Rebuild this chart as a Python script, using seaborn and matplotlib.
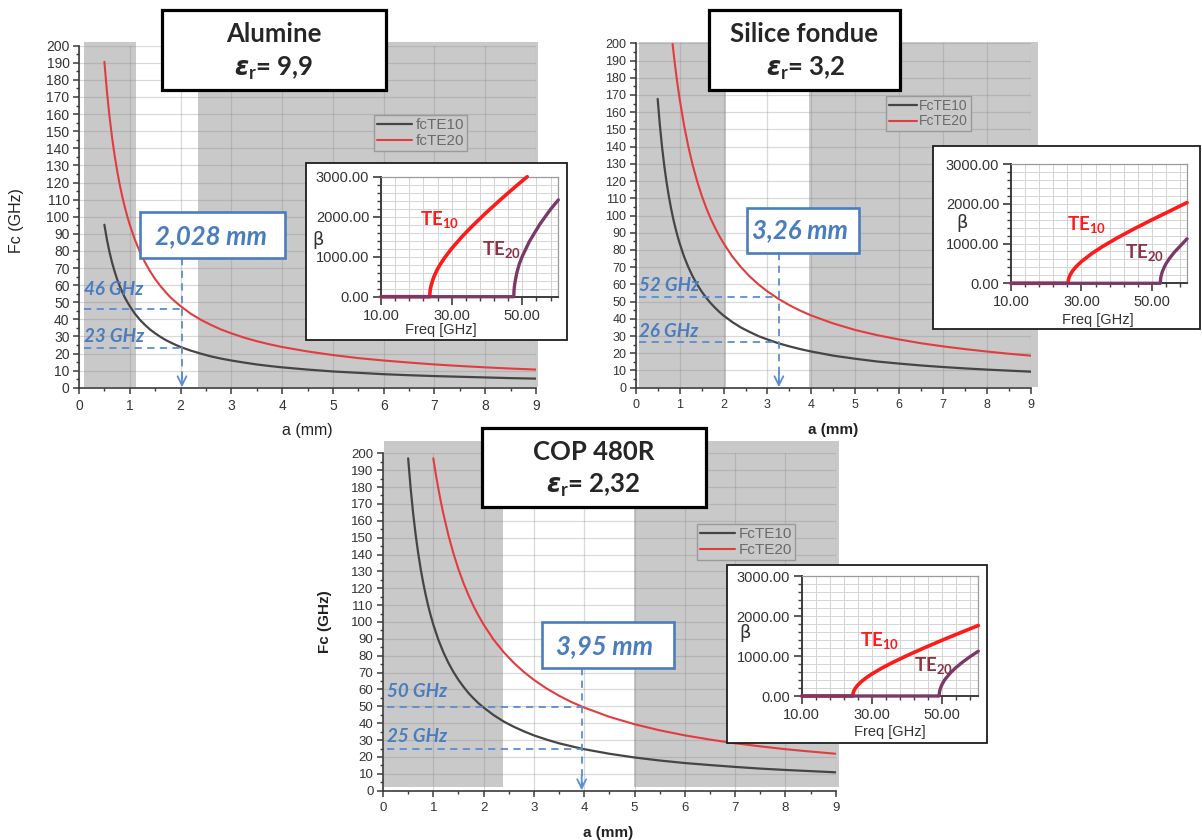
import numpy as np
import matplotlib
matplotlib.use("Agg")
import matplotlib.pyplot as plt
import seaborn as sns
from matplotlib.patches import Rectangle
from matplotlib.ticker import MultipleLocator, FixedLocator, FormatStrFormatter

# ---------------- data ----------------
# Main panels: cut-off frequency Fc (GHz) versus width a (mm)
a_grid = [0.5, 0.55, 0.6, 0.65, 0.7, 0.75, 0.8, 0.85, 0.9, 0.95, 1.0, 1.1, 1.2, 1.3, 1.4,
          1.5, 1.6, 1.7, 1.8, 1.9, 2.0, 2.2, 2.4, 2.6, 2.8, 3.0, 3.25, 3.5, 3.75, 4.0,
          4.5, 5.0, 5.5, 6.0, 6.5, 7.0, 7.5, 8.0, 8.5, 9.0]

alu_a10 = a_grid
alu_fc10 = [95.3, 86.6, 79.4, 73.3, 68.1, 63.5, 59.6, 56.1, 52.9, 50.2, 47.7, 43.3, 39.7,
            36.7, 34.0, 31.8, 29.8, 28.0, 26.5, 25.1, 23.8, 21.7, 19.9, 18.3, 17.0, 15.9,
            14.7, 13.6, 12.7, 11.9, 10.6, 9.5, 8.7, 7.9, 7.3, 6.8, 6.4, 6.0, 5.6, 5.3]
alu_a20 = a_grid
alu_fc20 = [190.6, 173.3, 158.8, 146.6, 136.1, 127.1, 119.1, 112.1, 105.9, 100.3, 95.3,
            86.6, 79.4, 73.3, 68.1, 63.5, 59.6, 56.1, 52.9, 50.2, 47.7, 43.3, 39.7, 36.7,
            34.0, 31.8, 29.3, 27.2, 25.4, 23.8, 21.2, 19.1, 17.3, 15.9, 14.7, 13.6, 12.7,
            11.9, 11.2, 10.6]

sil_a10 = a_grid
sil_fc10 = [167.7, 152.5, 139.8, 129.0, 119.8, 111.8, 104.8, 98.6, 93.2, 88.3, 83.9, 76.2,
            69.9, 64.5, 59.9, 55.9, 52.4, 49.3, 46.6, 44.1, 41.9, 38.1, 34.9, 32.3, 29.9,
            28.0, 25.8, 24.0, 22.4, 21.0, 18.6, 16.8, 15.2, 14.0, 12.9, 12.0, 11.2, 10.5,
            9.9, 9.3]
sil_a20 = [0.84, 0.87, 0.9, 0.95, 1.0, 1.1, 1.2, 1.3, 1.4, 1.5, 1.6, 1.7, 1.8, 1.9, 2.0,
           2.2, 2.4, 2.6, 2.8, 3.0, 3.25, 3.5, 3.75, 4.0, 4.5, 5.0, 5.5, 6.0, 6.5, 7.0,
           7.5, 8.0, 8.5, 9.0]
sil_fc20 = [199.6, 192.8, 186.3, 176.5, 167.7, 152.5, 139.8, 129.0, 119.8, 111.8, 104.8,
            98.6, 93.2, 88.3, 83.9, 76.2, 69.9, 64.5, 59.9, 55.9, 51.6, 47.9, 44.7, 41.9,
            37.3, 33.5, 30.5, 28.0, 25.8, 24.0, 22.4, 21.0, 19.7, 18.6]

cop_a10 = a_grid
cop_fc10 = [197.0, 179.1, 164.2, 151.5, 140.7, 131.3, 123.1, 115.9, 109.4, 103.7, 98.5,
            89.5, 82.1, 75.8, 70.4, 65.7, 61.6, 57.9, 54.7, 51.8, 49.3, 44.8, 41.0, 37.9,
            35.2, 32.8, 30.3, 28.1, 26.3, 24.6, 21.9, 19.7, 17.9, 16.4, 15.2, 14.1, 13.1,
            12.3, 11.6, 10.9]
cop_a20 = [1.0, 1.05, 1.1, 1.15, 1.2, 1.3, 1.4, 1.5, 1.6, 1.7, 1.8, 1.9, 2.0, 2.2, 2.4,
           2.6, 2.8, 3.0, 3.25, 3.5, 3.75, 4.0, 4.5, 5.0, 5.5, 6.0, 6.5, 7.0, 7.5, 8.0,
           8.5, 9.0]
cop_fc20 = [197.0, 187.6, 179.1, 171.3, 164.2, 151.5, 140.7, 131.3, 123.1, 115.9, 109.4,
            103.7, 98.5, 89.5, 82.1, 75.8, 70.4, 65.7, 60.6, 56.3, 52.5, 49.3, 43.8, 39.4,
            35.8, 32.8, 30.3, 28.1, 26.3, 24.6, 23.2, 21.9]

# Grey (excluded) ranges of a, in mm
alu_grey = [(0.10, 1.13), (2.35, 9.03)]
sil_grey = [(0.075, 2.06), (3.95, 9.15)]
cop_grey = [(0.02, 2.39), (4.99, 9.07)]

# Chosen width and the cut-off frequencies read there
alu_a_opt, alu_marks, alu_mark_labels, alu_box = 2.028, [46, 23], ["46 GHz", "23 GHz"], "2,028 mm"
sil_a_opt, sil_marks, sil_mark_labels, sil_box = 3.26, [52.5, 26.4], ["52 GHz", "26 GHz"], "3,26 mm"
cop_a_opt, cop_marks, cop_mark_labels, cop_box = 3.95, [49.6, 24.6], ["50 GHz", "25 GHz"], "3,95 mm"

# Insets: beta versus Freq [GHz]
alu_f10 = [10, 23.8, 23.85, 23.95, 24.2, 24.6, 25, 26, 27, 28, 30, 33, 36, 40, 44, 48, 51.4]
alu_b10 = [0, 0, 100, 175, 280, 400, 504, 690, 840, 972, 1204, 1507, 1780, 2119, 2439,
           2747, 3000]
alu_f20 = [10, 47.6, 47.65, 47.8, 48.1, 48.5, 49.2, 50, 52, 55, 58, 60.2]
alu_b20 = [0, 0, 140, 280, 440, 613, 830, 1008, 1379, 1816, 2184, 2420]

sil_f10 = [10, 26.2, 26.3, 26.5, 26.8, 27.5, 28.5, 30, 33, 36, 40, 45, 50, 55, 60]
sil_b10 = [0, 0, 86, 150, 211, 313, 420, 547, 752, 925, 1133, 1371, 1596, 1812, 2030]
sil_f20 = [10, 52.4, 52.5, 52.7, 53, 53.5, 54, 55, 56.5, 58, 60]
sil_b20 = [0, 0, 122, 210, 298, 400, 489, 626, 792, 932, 1120]

cop_f10 = [10, 24.6, 24.7, 24.9, 25.2, 25.6, 26, 27, 28.5, 30, 33, 36, 40, 45, 50, 55, 60.5]
cop_b10 = [0, 0, 71, 123, 174, 225, 269, 355, 459, 548, 702, 838, 1006, 1202, 1389, 1569,
           1763]
cop_f20 = [10, 49.3, 49.4, 49.6, 50, 50.5, 51, 52.5, 54, 56, 58, 60.5]
cop_b20 = [0, 0, 100, 174, 266, 350, 417, 576, 703, 847, 975, 1119]

inset_xticks = [10, 30, 50]
inset_xlabels = ["10.00", "30.00", "50.00"]

# ---------------- style ----------------
sns.set_style("white")
plt.rcParams['font.family'] = ['Liberation Sans', 'DejaVu Sans']
plt.rcParams['mathtext.fontset'] = 'custom'
plt.rcParams['mathtext.rm'] = 'Lato:bold'
plt.rcParams['mathtext.bf'] = 'Lato:bold'
plt.rcParams['mathtext.sf'] = 'Lato:bold'
plt.rcParams['mathtext.it'] = 'DejaVu Sans:italic:bold'

W, H = 1202, 840
fig = plt.figure(figsize=(W / 100, H / 100), dpi=100)
fig.patch.set_facecolor('white')

GREY = '#c9c9c9'
BLUE = '#4a7dbf'
DBLUE = '#5b8dd0'
C10 = '#454545'
C20 = '#e23b40'
TXT = '#333333'


def px_rect(x0, y0, x1, y1):
    return [x0 / W, 1 - y1 / H, (x1 - x0) / W, (y1 - y0) / H]


def P(x, y):
    return (x / W, 1 - y / H)


def main_panel(ax_px, a10, fc10, a20, fc20, names, grey_x, grey_y, tick_fs,
               lab_fs, lab_w, xlab, ylab, leg_px, leg_fs, leg_hl):
    ax = fig.add_axes(px_rect(*ax_px))
    ax.set_facecolor('white')
    ax.set_xlim(0, 9)
    ax.set_ylim(0, 200)
    for x0, x1 in grey_x:
        ax.add_patch(Rectangle((x0, grey_y[0]), x1 - x0, grey_y[1] - grey_y[0],
                               facecolor=GREY, edgecolor='none', zorder=0.1, clip_on=False))
    ax.set_axisbelow(True)
    ax.xaxis.set_major_locator(MultipleLocator(1))
    ax.xaxis.set_minor_locator(MultipleLocator(0.5))
    ax.yaxis.set_major_locator(MultipleLocator(10))
    ax.yaxis.set_minor_locator(MultipleLocator(5))
    ax.grid(True, which='major', color='#8a8a8a', alpha=0.32, lw=0.9)
    sns.lineplot(x=a10, y=fc10, ax=ax, color=C10, lw=1.6, label=names[0],
                 sort=False, estimator=None, zorder=2)
    sns.lineplot(x=a20, y=fc20, ax=ax, color=C20, lw=1.5, label=names[1],
                 sort=False, estimator=None, zorder=2)
    for s in ['top', 'right']:
        ax.spines[s].set_visible(False)
    for s in ['left', 'bottom']:
        ax.spines[s].set_color('#3a3a3a')
        ax.spines[s].set_linewidth(1.2)
    ax.tick_params(which='major', direction='out', length=4.3, width=1.1, color='#3a3a3a',
                   labelsize=tick_fs, labelcolor=TXT, left=True, bottom=True)
    ax.tick_params(axis='y', which='major', pad=2.5)
    ax.tick_params(axis='x', which='major', pad=4)
    ax.tick_params(which='minor', direction='out', length=2.4, width=1.0, color='#3a3a3a',
                   left=True, bottom=True)
    ax.set_xlabel('a (mm)', fontsize=lab_fs, fontweight=lab_w, color='#222222')
    ax.xaxis.set_label_coords(*xlab)
    ax.xaxis.label.set_va('center')
    if ylab is not None:
        ax.set_ylabel('Fc (GHz)', fontsize=lab_fs, fontweight=lab_w, color='#222222')
        ax.yaxis.set_label_coords(*ylab)
        ax.yaxis.label.set_va('center')
    else:
        ax.set_ylabel('')
    ax.legend(loc='upper left', bbox_to_anchor=P(*leg_px), bbox_transform=fig.transFigure,
              fontsize=leg_fs, labelcolor='#6a6a6a', frameon=True, fancybox=False,
              facecolor=GREY, edgecolor='#9a9a9a', framealpha=1, borderpad=0.2,
              labelspacing=0.12, handlelength=leg_hl, handletextpad=0.2, borderaxespad=0)
    ax.get_legend().get_frame().set_linewidth(1.0)
    return ax


def annotate_panel(ax, a_opt, marks, mark_labels, mark_xy, x_start, line_top,
                   box_px, box_text, box_text_px):
    for f in marks:
        ax.plot([x_start, a_opt], [f, f], color=DBLUE, lw=1.3, ls=(0, (4, 3)), zorder=3)
    ax.plot([a_opt, a_opt], [line_top, 2], color=DBLUE, lw=1.3, ls=(0, (4, 3)), zorder=3)
    ax.annotate('', xy=(a_opt, 0.3), xytext=(a_opt, 9),
                arrowprops=dict(arrowstyle='->', color=DBLUE, lw=1.3, mutation_scale=16,
                                shrinkA=0, shrinkB=0), zorder=3)
    for lab, (tx, ty) in zip(mark_labels, mark_xy):
        ax.text(tx, ty, lab, color=BLUE, fontsize=13.5, fontweight='bold', fontstyle='italic',
                family='Lato', ha='left', va='center', zorder=4)
    x0, y0, x1, y1 = box_px
    fig.add_artist(Rectangle(P(x0, y1), (x1 - x0) / W, (y1 - y0) / H, transform=fig.transFigure,
                             facecolor='white', edgecolor=BLUE, lw=1.9, zorder=6))
    fig.text(*P(*box_text_px), box_text, color=BLUE, fontsize=18.5, fontweight='bold',
             fontstyle='italic', family='Lato', ha='center', va='center', zorder=7)


def title_box(box_px, name, eps_value, name_px, eps_px):
    x0, y0, x1, y1 = box_px
    fig.add_artist(Rectangle(P(x0, y1), (x1 - x0) / W, (y1 - y0) / H, transform=fig.transFigure,
                             facecolor='white', edgecolor='black', lw=2.3, zorder=6))
    fig.text(*P(*name_px), name, family='Lato', fontweight='bold', fontsize=18.5,
             ha='center', va='center', zorder=7)
    fig.text(*P(*eps_px), r'$\epsilon_{\mathrm{r}}$= ' + eps_value, family='Lato',
             fontweight='bold', fontsize=18.5, ha='center', va='center', zorder=7)


def inset(box_px, ax_px, xlim, f10, b10, f20, b20, beta_px, te10_px, te20_px, freq_px):
    x0, y0, x1, y1 = box_px
    fig.add_artist(Rectangle(P(x0, y1), (x1 - x0) / W, (y1 - y0) / H, transform=fig.transFigure,
                             facecolor='white', edgecolor='#1e1e1e', lw=1.3, zorder=3))
    ax = fig.add_axes(px_rect(*ax_px), zorder=4)
    ax.set_facecolor('white')
    ax.set_xlim(*xlim)
    ax.set_ylim(0, 3000)
    ax.xaxis.set_major_locator(FixedLocator(inset_xticks))
    ax.xaxis.set_minor_locator(FixedLocator(np.arange(10, 61, 4)))
    ax.set_xticklabels(inset_xlabels)
    ax.yaxis.set_major_locator(MultipleLocator(1000))
    ax.yaxis.set_minor_locator(MultipleLocator(200))
    ax.yaxis.set_major_formatter(FormatStrFormatter('%.2f'))
    ax.set_axisbelow(True)
    ax.grid(True, which='both', color='#d3d3d3', lw=0.7)
    sns.lineplot(x=f10, y=b10, ax=ax, color='#ff1a1a', lw=2.6, sort=False, estimator=None,
                 clip_on=False, zorder=3)
    sns.lineplot(x=f20, y=b20, ax=ax, color='#7a3a68', lw=2.4, sort=False, estimator=None,
                 clip_on=False, zorder=3)
    for s in ['left', 'bottom']:
        ax.spines[s].set_color('#3c3c3c')
        ax.spines[s].set_linewidth(1.4)
    for s in ['top', 'right']:
        ax.spines[s].set_color('#9a9a9a')
        ax.spines[s].set_linewidth(0.9)
    ax.tick_params(which='major', direction='out', length=5.5, width=1.2, color='#3c3c3c',
                   labelsize=10.5, labelcolor=TXT, left=True, bottom=True, pad=3)
    ax.tick_params(which='minor', direction='out', length=3.2, width=1.0, color='#3c3c3c',
                   left=True, bottom=True)
    ax.set_xlabel('')
    ax.set_ylabel('')
    fig.text(*P(*beta_px), 'β', fontsize=13, color=TXT, ha='center', va='center',
             family='DejaVu Sans', zorder=6)
    fig.text(*P(*freq_px), 'Freq [GHz]', fontsize=10.5, color=TXT, ha='center', va='center',
             zorder=6)
    fig.text(*P(*te10_px), r'TE$_{10}$', family='Lato', fontweight='bold', fontsize=13.5,
             color='#ff1a1a', ha='center', va='center', zorder=6)
    fig.text(*P(*te20_px), r'TE$_{20}$', family='Lato', fontweight='bold', fontsize=13.5,
             color='#8a3344', ha='center', va='center', zorder=6)
    return ax


# ---------------- Panel 1 : Alumine ----------------
ax1 = main_panel((79, 45.7, 536, 387.7), alu_a10, alu_fc10, alu_a20, alu_fc20,
                 ['fcTE10', 'fcTE20'], alu_grey, (0.6, 202), 10, 11.5, 'normal',
                 (0.499, -0.124), (-0.1357, 0.49), (374, 115), 11, 2.3)
annotate_panel(ax1, alu_a_opt, alu_marks, alu_mark_labels, [(0.1, 57.7), (0.1, 30.2)],
               0.1, 75.8, (140, 212, 285, 258), alu_box, (210.5, 236))
title_box((162, 10, 386, 90), 'Alumine', '9,9', (274, 33.5), (274, 68))
inset((306, 163, 567, 340), (381, 176.7, 558.3, 296.7), (10, 60.2),
      alu_f10, alu_b10, alu_f20, alu_b20, (318, 240), (440, 220), (501.7, 250), (441, 330))

# ---------------- Panel 2 : Silice fondue ----------------
ax2 = main_panel((635.7, 43.3, 1031, 387.7), sil_a10, sil_fc10, sil_a20, sil_fc20,
                 ['FcTE10', 'FcTE20'], sil_grey, (0.5, 200.5), 9, 11, 'bold',
                 (0.499, -0.123), None, (886, 96), 10, 2.0)
annotate_panel(ax2, sil_a_opt, sil_marks, sil_mark_labels, [(0.08, 59.6), (0.08, 32.9)],
               0.08, 78.2, (746.7, 208, 859, 253), sil_box, (799.5, 230.5))
title_box((709, 10, 900, 90), 'Silice fondue', '3,2', (804, 33.5), (806, 68))
inset((933, 146, 1200, 329), (1011, 164, 1186.7, 283.3), (10, 59.9),
      sil_f10, sil_b10, sil_f20, sil_b20, (961.7, 223.3), (1086.7, 225), (1145, 253),
      (1098, 320))

# ---------------- Panel 3 : COP 480R ----------------
ax3 = main_panel((383, 453.3, 835.7, 790.7), cop_a10, cop_fc10, cop_a20, cop_fc20,
                 ['FcTE10', 'FcTE20'], cop_grey, (2.4, 207), 9.5, 11, 'bold',
                 (0.497, -0.1254), (-0.128, 0.5), (697, 524), 11, 2.3)
annotate_panel(ax3, cop_a_opt, cop_marks, cop_mark_labels, [(0.08, 58.7), (0.08, 32)],
               0.08, 72.6, (542.3, 622.3, 674.3, 668.3), cop_box, (605, 646.5))
title_box((482, 428, 706, 507), 'COP 480R', '2,32', (594, 452.3), (593, 485))
inset((727, 565, 987, 743), (801.7, 576, 978.3, 696), (10, 60.5),
      cop_f10, cop_b10, cop_f20, cop_b20, (745, 633.3), (880, 641.7), (933.3, 666.7),
      (890, 731.7))

fig.savefig('out.png', dpi=100, facecolor='white')
